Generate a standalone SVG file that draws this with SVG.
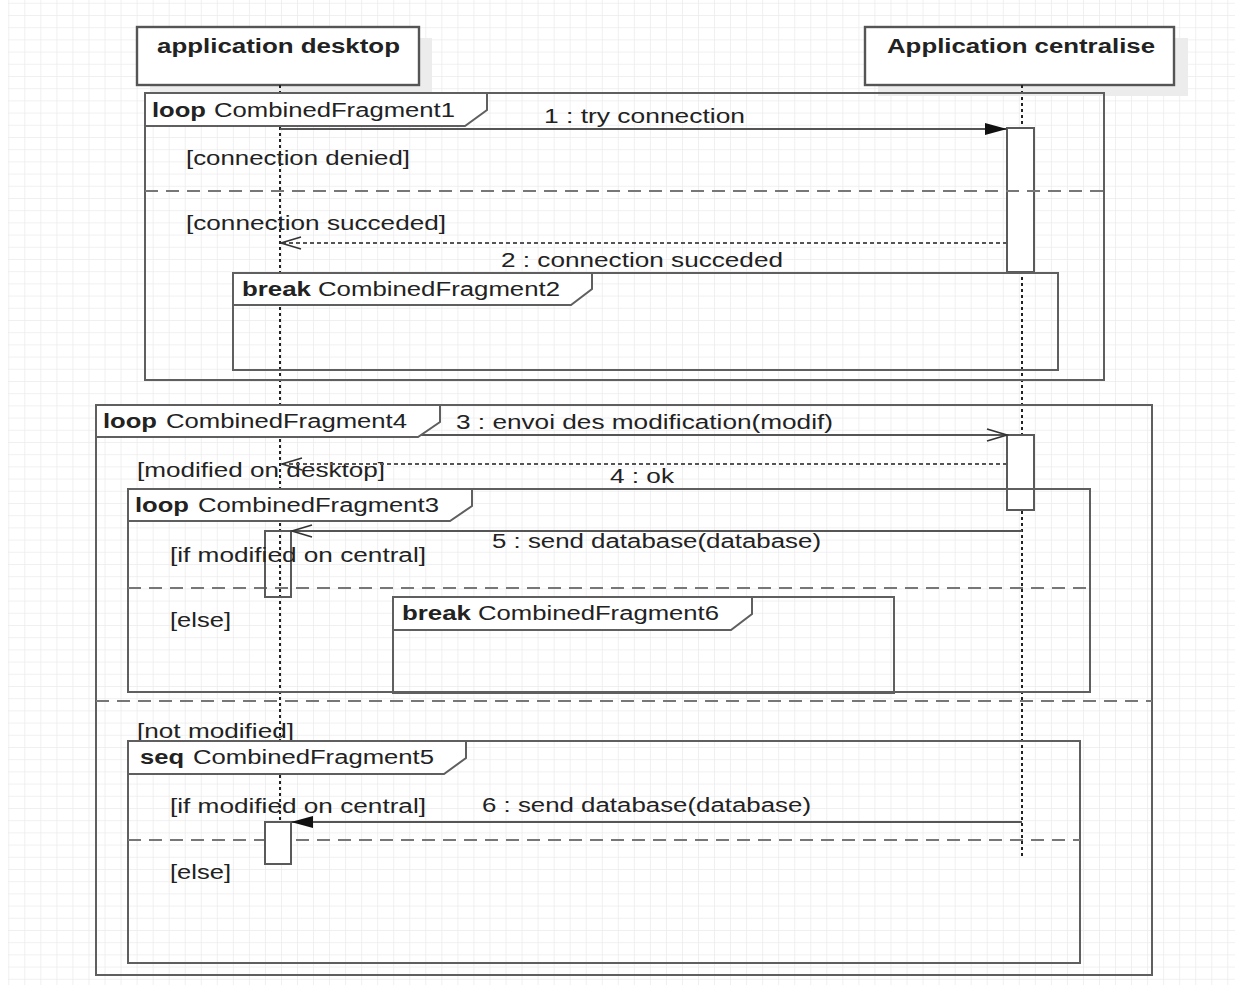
<svg xmlns="http://www.w3.org/2000/svg" width="1235" height="985" viewBox="0 0 1235 985">
<style>
.t{font-family:"Liberation Sans",Arial,sans-serif;font-size:20px;fill:#222;}
.b{font-weight:bold;}
.hdr{fill:#fff;stroke:#555;stroke-width:2.4;}
.shd{fill:#ececec;}
.frame{fill:none;stroke:#5f5f5f;stroke-width:2;}
.lbl{fill:#fff;stroke:#5f5f5f;stroke-width:2;}
.sep{fill:none;stroke:#777;stroke-width:2;stroke-dasharray:13 8;}
.life{fill:none;stroke:#222;stroke-width:2;stroke-dasharray:3 3;}
.act{fill:#fff;stroke:#5a5a5a;stroke-width:2;}
.act0{fill:none;stroke:#5a5a5a;stroke-width:2;}
.msg{fill:none;stroke:#555;stroke-width:2;}
.ret{fill:none;stroke:#555;stroke-width:2;stroke-dasharray:4 3;}
</style>
<defs>
<pattern id="grid" patternUnits="userSpaceOnUse" x="8.3" y="2.8" width="16.04" height="12.2">
<path d="M0 0 H16.04 M0 0 V12.2" stroke="#ececec" stroke-width="1.6" fill="none"/>
</pattern>
<marker id="filled" markerUnits="userSpaceOnUse" viewBox="0 0 22 12" refX="22" refY="6" markerWidth="22" markerHeight="12" orient="auto">
<path d="M0 0 L22 6 L0 12 Z" fill="#111"/>
</marker>
<marker id="open" markerUnits="userSpaceOnUse" viewBox="-1 -1 23 14" refX="20" refY="6" markerWidth="23" markerHeight="14" orient="auto">
<path d="M0 0 L20 6 L0 12" fill="none" stroke="#333" stroke-width="1.6"/>
</marker>
</defs>
<rect x="0" y="0" width="1235" height="985" fill="#fff"/>
<rect x="8" y="0" width="1227" height="985" fill="url(#grid)"/>

<g id="lifeline-desktop">
<rect class="shd" x="150" y="38" width="282" height="58"/>
<rect class="hdr" x="137" y="27" width="282" height="58"/>
<text class="t b" x="157" y="53" textLength="243" lengthAdjust="spacingAndGlyphs">application desktop</text>
<line class="life" x1="280" y1="85" x2="280" y2="864"/>
</g>
<g id="lifeline-central">
<rect class="shd" x="878" y="38" width="310" height="58"/>
<rect class="hdr" x="865" y="27" width="309" height="58"/>
<text class="t b" x="887" y="53" textLength="268" lengthAdjust="spacingAndGlyphs">Application centralise</text>
<line class="life" x1="1022" y1="85" x2="1022" y2="858"/>
</g>

<g id="activations-central">
<rect class="act" x="1007" y="128" width="27" height="144"/>
<rect class="act" x="1007" y="435" width="27" height="75"/>
</g>

<g id="CombinedFragment1">
<rect class="frame" x="145" y="93" width="959" height="287"/>
<line class="sep" x1="145" y1="191" x2="1104" y2="191"/>
<text class="t" x="186" y="165" textLength="224" lengthAdjust="spacingAndGlyphs">[connection denied]</text>
<text class="t" x="186" y="230" textLength="260" lengthAdjust="spacingAndGlyphs">[connection succeded]</text>
</g>
<g id="CombinedFragment2">
<rect class="frame" x="233" y="273" width="825" height="97"/>
</g>
<g id="CombinedFragment4">
<rect class="frame" x="96" y="405" width="1056" height="570"/>
<line class="sep" x1="96" y1="701" x2="1152" y2="701"/>
<text class="t" x="137" y="477" textLength="248" lengthAdjust="spacingAndGlyphs">[modified on desktop]</text>
<text class="t" x="137" y="738" textLength="157" lengthAdjust="spacingAndGlyphs">[not modified]</text>
</g>
<g id="CombinedFragment3">
<rect class="frame" x="128" y="489" width="962" height="203"/>
<line class="sep" x1="128" y1="588" x2="1090" y2="588"/>
<rect class="act0" x="265" y="531" width="26" height="66"/>
<text class="t" x="170" y="562" textLength="256" lengthAdjust="spacingAndGlyphs">[if modified on central]</text>
<text class="t" x="170" y="627" textLength="61" lengthAdjust="spacingAndGlyphs">[else]</text>
</g>
<g id="CombinedFragment6">
<rect class="frame" x="393" y="597" width="501" height="96"/>
</g>
<g id="CombinedFragment5">
<rect class="frame" x="128" y="741" width="952" height="222"/>
<line class="sep" x1="128" y1="840" x2="1080" y2="840"/>
<text class="t" x="170" y="813" textLength="256" lengthAdjust="spacingAndGlyphs">[if modified on central]</text>
<text class="t" x="170" y="879" textLength="61" lengthAdjust="spacingAndGlyphs">[else]</text>
</g>

<g id="activations-desktop">
<rect class="act" x="265" y="822" width="26" height="42"/>
</g>

<g id="connectors">
<line class="msg" x1="280" y1="129" x2="1007" y2="129" marker-end="url(#filled)"/>
<text class="t" x="544" y="123" textLength="201" lengthAdjust="spacingAndGlyphs">1 : try connection</text>
<line class="ret" x1="1007" y1="243" x2="281" y2="243" marker-end="url(#open)"/>
<text class="t" x="501" y="267" textLength="282" lengthAdjust="spacingAndGlyphs">2 : connection succeded</text>
<line class="msg" x1="280" y1="435" x2="1007" y2="435" marker-end="url(#open)"/>
<text class="t" x="456" y="429" textLength="377" lengthAdjust="spacingAndGlyphs">3 : envoi des modification(modif)</text>
<line class="ret" x1="1007" y1="464" x2="282" y2="464" marker-end="url(#open)"/>
<text class="t" x="610" y="483" textLength="64" lengthAdjust="spacingAndGlyphs">4 : ok</text>
<line class="msg" x1="1022" y1="531" x2="292" y2="531" marker-end="url(#open)"/>
<text class="t" x="492" y="548" textLength="329" lengthAdjust="spacingAndGlyphs">5 : send database(database)</text>
<line class="msg" x1="1022" y1="822" x2="291" y2="822" marker-end="url(#filled)"/>
<text class="t" x="482" y="812" textLength="329" lengthAdjust="spacingAndGlyphs">6 : send database(database)</text>
</g>

<g id="labels">
<path class="lbl" d="M145 93 H487 V110 L465 126 H145 Z"/>
<text class="t b" x="152" y="117" textLength="54" lengthAdjust="spacingAndGlyphs">loop</text>
<text class="t" x="214" y="117" textLength="241" lengthAdjust="spacingAndGlyphs">CombinedFragment1</text>
<path class="lbl" d="M233 273 H592 V289 L571 305 H233 Z"/>
<text class="t b" x="242" y="296" textLength="69" lengthAdjust="spacingAndGlyphs">break</text>
<text class="t" x="318" y="296" textLength="242" lengthAdjust="spacingAndGlyphs">CombinedFragment2</text>
<path class="lbl" d="M96 405 H440 V422 L418 437 H96 Z"/>
<text class="t b" x="103" y="428" textLength="54" lengthAdjust="spacingAndGlyphs">loop</text>
<text class="t" x="166" y="428" textLength="241" lengthAdjust="spacingAndGlyphs">CombinedFragment4</text>
<path class="lbl" d="M128 489 H472 V506 L450 521 H128 Z"/>
<text class="t b" x="135" y="512" textLength="54" lengthAdjust="spacingAndGlyphs">loop</text>
<text class="t" x="198" y="512" textLength="241" lengthAdjust="spacingAndGlyphs">CombinedFragment3</text>
<path class="lbl" d="M393 597 H752 V614 L731 630 H393 Z"/>
<text class="t b" x="402" y="620" textLength="69" lengthAdjust="spacingAndGlyphs">break</text>
<text class="t" x="478" y="620" textLength="241" lengthAdjust="spacingAndGlyphs">CombinedFragment6</text>
<path class="lbl" d="M128 741 H466 V758 L444 774 H128 Z"/>
<text class="t b" x="140" y="764" textLength="44" lengthAdjust="spacingAndGlyphs">seq</text>
<text class="t" x="193" y="764" textLength="241" lengthAdjust="spacingAndGlyphs">CombinedFragment5</text>
</g>
</svg>
